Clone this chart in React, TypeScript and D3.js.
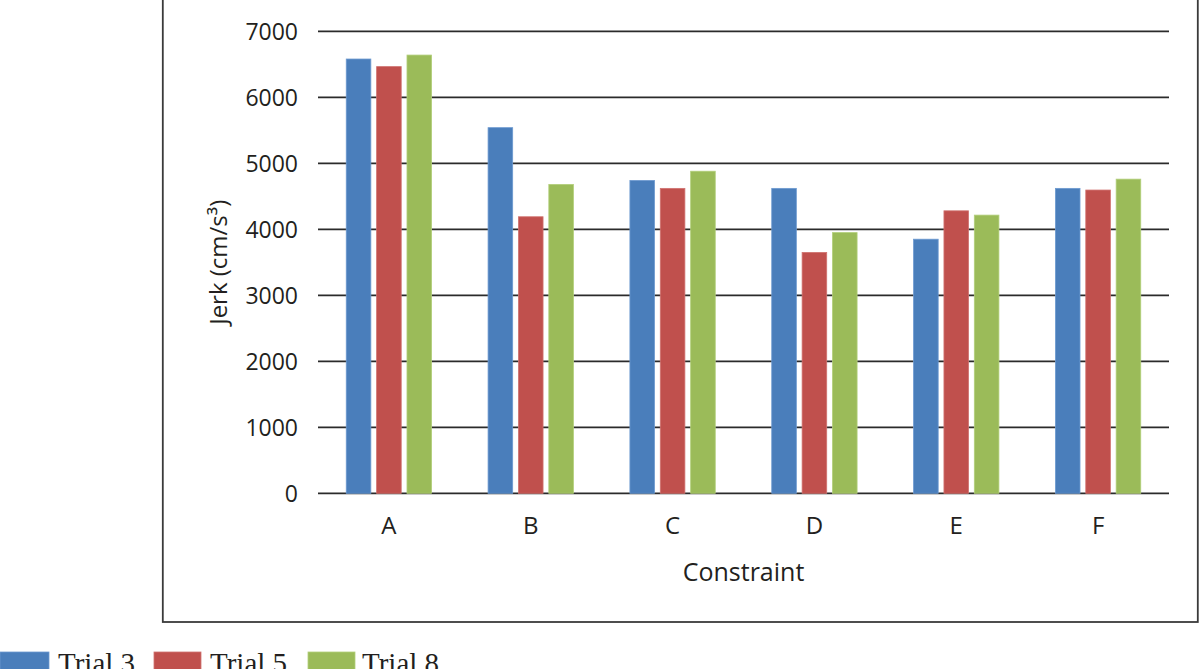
import React from "react";
import * as d3 from "d3";

const categories = ["A", "B", "C", "D", "E", "F"];
const seriesNames = ["Trial 3", "Trial 5", "Trial 8"];
const trial3 = [6580, 5540, 4740, 4620, 3850, 4620];
const trial5 = [6465, 4190, 4620, 3650, 4280, 4595];
const trial8 = [6640, 4680, 4880, 3950, 4215, 4760];
const yTicks = [0, 1000, 2000, 3000, 4000, 5000, 6000, 7000];
const colors = ["#4a7ebb", "#c0504d", "#9bbb59"];
const strokes = ["#6d9ad0", "#d07370", "#b2cf7a"];

const W = 1200;
const H = 669;
const plot = { left: 318, right: 1169, top: 31.3, bottom: 493.3 };

export default function App() {
  const series = [trial3, trial5, trial8];
  const x0 = d3.scaleBand<string>().domain(categories).range([plot.left, plot.right]).padding(0);
  const x1 = d3
    .scaleBand<string>()
    .domain(seriesNames)
    .range([0, x0.bandwidth()])
    .paddingInner(0.19)
    .paddingOuter(0.93);
  const y = d3.scaleLinear().domain([0, 7000]).range([plot.bottom, plot.top]);
  const sans = "'Open Sans', 'DejaVu Sans', sans-serif";
  const textColor = "#231f20";

  const legendItems = [
    { sx: 0, sw: 49, tx: 58 },
    { sx: 154, sw: 47, tx: 210 },
    { sx: 308, sw: 47, tx: 362 },
  ];

  return (
    <svg
      width={W}
      height={H}
      style={{ position: "absolute", left: 0, top: 0, background: "#fff" }}
    >
      <rect x={0} y={0} width={W} height={H} fill="#fff" />
      {/* frame */}
      <rect x={162.8} y={-1} width={1035} height={623} fill="none" stroke="#3a3a3a" strokeWidth={1.8} />
      {/* gridlines */}
      {yTicks.map((t) => (
        <line
          key={"g" + t}
          x1={plot.left}
          x2={plot.right}
          y1={y(t)}
          y2={y(t)}
          stroke="#2b2b2b"
          strokeWidth={1.8}
        />
      ))}
      {/* y tick labels */}
      {yTicks.map((t) => (
        <text
          key={"t" + t}
          x={298}
          y={y(t)}
          dy="0.36em"
          textAnchor="end"
          fontFamily={sans}
          fontSize={23}
          fill={textColor}
        >
          {t}
        </text>
      ))}
      {/* bars */}
      {categories.map((c, i) => (
        <g key={c} transform={`translate(${x0(c)},0)`}>
          {seriesNames.map((s, j) => (
            <rect
              key={s}
              x={x1(s)!}
              y={y(series[j][i])}
              width={x1.bandwidth()}
              height={y(0) - y(series[j][i])}
              fill={colors[j]}
              stroke={strokes[j]}
              strokeWidth={0.8}
            />
          ))}
        </g>
      ))}
      {/* category labels */}
      {categories.map((c) => (
        <text
          key={"c" + c}
          x={x0(c)! + x0.bandwidth() / 2}
          y={534}
          textAnchor="middle"
          fontFamily={sans}
          fontSize={24}
          fill={textColor}
        >
          {c}
        </text>
      ))}
      {/* axis titles */}
      <text
        x={(plot.left + plot.right) / 2}
        y={580.5}
        textAnchor="middle"
        fontFamily={sans}
        fontSize={25}
        fill={textColor}
      >
        Constraint
      </text>
      <text
        transform={`translate(227,${(plot.top + plot.bottom) / 2}) rotate(-90)`}
        textAnchor="middle"
        fontFamily={sans}
        fontSize={24}
        fill={textColor}
      >
        Jerk (cm/s³)
      </text>
      {/* legend */}
      {seriesNames.map((s, j) => (
        <g key={"l" + s}>
          <rect x={legendItems[j].sx} y={652} width={legendItems[j].sw} height={20} fill={colors[j]} stroke={strokes[j]} strokeWidth={0.8} />
          <text
            x={legendItems[j].tx}
            y={673}
            fontFamily="'Liberation Serif', 'Times New Roman', serif"
            fontSize={29}
            fill={textColor}
          >
            {s}
          </text>
        </g>
      ))}
    </svg>
  );
}
